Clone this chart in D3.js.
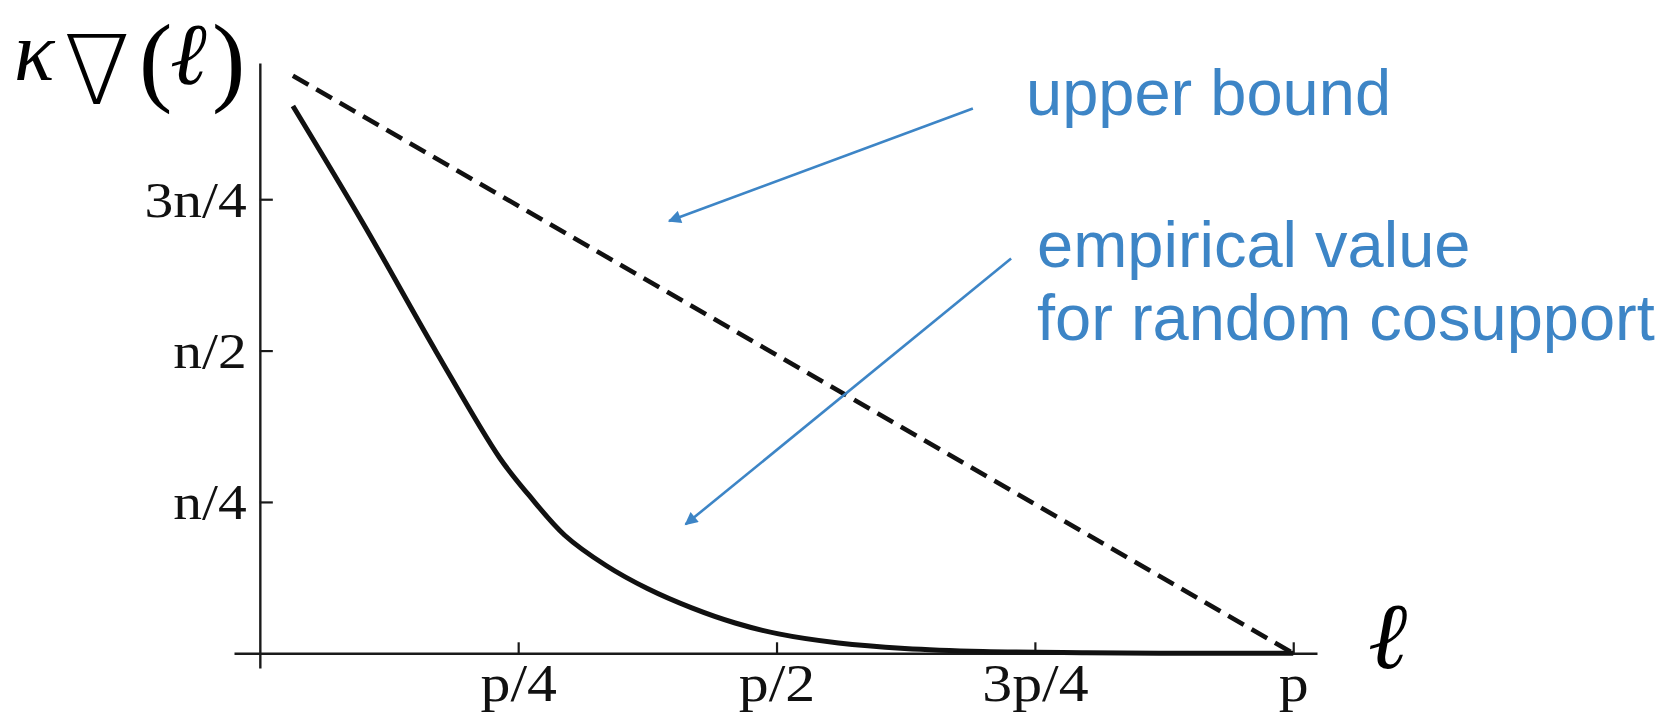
<!DOCTYPE html>
<html>
<head>
<meta charset="utf-8">
<script src="https://cdn.jsdelivr.net/npm/d3@7"></script>
<style>
  html, body { margin: 0; padding: 0; background: #fff; }
  svg { display: block; }
</style>
</head>
<body>
<svg id="chart" width="1669" height="716"></svg>
<script>
// Cosupport size: fraction of p on the x axis, fraction of n on the y axis
const ellValues   = [0.032, 0.10, 0.171, 0.232, 0.26, 0.295, 0.335, 0.375, 0.418, 0.46, 0.502, 0.56, 0.624, 0.70, 0.80, 0.90, 1.00];
const kappaValues = [0.904, 0.71, 0.497, 0.323, 0.262, 0.195, 0.145, 0.107, 0.075, 0.050, 0.032, 0.017, 0.008, 0.003, 0.001, 0.000, 0.000];

// Upper bound: straight line between its two end points
const boundEll   = [0.032, 1.00];
const boundKappa = [0.954, 0.00];

const xTickValues = [0.25, 0.5, 0.75, 1];
const xTickLabels = ["p/4", "p/2", "3p/4", "p"];
const yTickValues = [0.25, 0.5, 0.75];
const yTickLabels = ["n/4", "n/2", "3n/4"];

const annotations = [
  { lines: ["upper bound"], arrowFrom: [0.690, 0.900], arrowTo: [0.396, 0.714] },
  { lines: ["empirical value", "for random cosupport"], arrowFrom: [0.727, 0.652], arrowTo: [0.412, 0.213] }
];

const svg = d3.select("#chart");
const blue = "#3d85c6";
const ink = "#111";
const serif = "'Liberation Serif', 'Times New Roman', serif";

const x = d3.scaleLinear().domain([-0.025, 1.023]).range([234, 1317]);
const y = d3.scaleLinear().domain([-0.0243, 0.975]).range([668, 63]);

// Axes
const xAxis = d3.axisBottom(x)
  .tickValues(xTickValues)
  .tickFormat((d, i) => xTickLabels[i])
  .tickSize(-11).tickSizeOuter(0).tickPadding(48);
const yAxis = d3.axisLeft(y)
  .tickValues(yTickValues)
  .tickFormat((d, i) => yTickLabels[i])
  .tickSize(-13).tickSizeOuter(0).tickPadding(13);

const gx = svg.append("g").attr("transform", `translate(0,${y(0)})`).call(xAxis);
const gy = svg.append("g").attr("transform", `translate(${x(0)},0)`).call(yAxis);

[gx, gy].forEach(g => {
  g.select(".domain").attr("stroke", "#1a1a1a").attr("stroke-width", 2.4);
  g.selectAll(".tick line").attr("stroke", "#1a1a1a").attr("stroke-width", 2.2);
  g.selectAll(".tick text")
    .attr("fill", ink)
    .style("font-family", serif);
});
gy.selectAll(".tick text").style("font-size", "50px").attr("dy", "0.34em");
gx.selectAll(".tick text").style("font-size", "52px").attr("dy", 0);

// Tick labels are set slightly wide
[gx, gy].forEach(g => {
  g.selectAll(".tick text").each(function () {
    const w = this.getComputedTextLength();
    d3.select(this).attr("textLength", w * 1.15).attr("lengthAdjust", "spacingAndGlyphs");
  });
});

// Curves
const line = d3.line().x(d => x(d[0])).y(d => y(d[1]));

svg.append("path")
  .datum(d3.zip(boundEll, boundKappa))
  .attr("d", line)
  .attr("fill", "none")
  .attr("stroke", ink)
  .attr("stroke-width", 4.6)
  .attr("stroke-dasharray", "18,9");

svg.append("path")
  .datum(d3.zip(ellValues, kappaValues))
  .attr("d", line.curve(d3.curveCatmullRom.alpha(0.5)))
  .attr("fill", "none")
  .attr("stroke", ink)
  .attr("stroke-width", 5)
  .attr("stroke-linejoin", "round");

// Axis titles
svg.append("text").attr("x", 14).attr("y", 80)
  .style("font-family", serif).style("font-style", "italic").style("font-size", "84px")
  .text("κ");
svg.append("text").attr("x", 64).attr("y", 104)
  .style("font-family", "'DejaVu Sans', sans-serif").style("font-weight", 200).style("font-size", "96px")
  .text("∇");
svg.append("text").attr("x", 139).attr("y", 93)
  .style("font-family", serif).style("font-size", "100px")
  .text("(");
svg.append("text").attr("x", 170).attr("y", 84)
  .style("font-family", "'DejaVu Serif', serif").style("font-style", "italic").style("font-size", "88px")
  .text("ℓ");
svg.append("text").attr("x", 212).attr("y", 93)
  .style("font-family", serif).style("font-size", "100px")
  .text(")");
svg.append("text").attr("x", 1368).attr("y", 668)
  .style("font-family", "'DejaVu Serif', serif").style("font-style", "italic").style("font-size", "94px")
  .text("ℓ");

// Annotations
svg.append("defs").append("marker")
  .attr("id", "head")
  .attr("viewBox", "0 0 10 10")
  .attr("refX", 9).attr("refY", 5)
  .attr("markerWidth", 6).attr("markerHeight", 5)
  .attr("markerUnits", "strokeWidth")
  .attr("orient", "auto")
  .append("path").attr("d", "M0,0 L10,5 L0,10 z").attr("fill", blue);

const textPos = [[1026, 115], [1037, 267]];
annotations.forEach((a, i) => {
  svg.append("line")
    .attr("x1", x(a.arrowFrom[0])).attr("y1", y(a.arrowFrom[1]))
    .attr("x2", x(a.arrowTo[0])).attr("y2", y(a.arrowTo[1]))
    .attr("stroke", blue).attr("stroke-width", 2.6)
    .attr("marker-end", "url(#head)");
  const t = svg.append("text")
    .attr("x", textPos[i][0]).attr("y", textPos[i][1])
    .attr("fill", blue)
    .style("font-family", "'Liberation Sans', Arial, Helvetica, sans-serif")
    .style("font-size", "65px");
  a.lines.forEach((l, j) => {
    t.append("tspan").attr("x", textPos[i][0]).attr("dy", j === 0 ? 0 : 73).text(l);
  });
});
</script>
</body>
</html>
